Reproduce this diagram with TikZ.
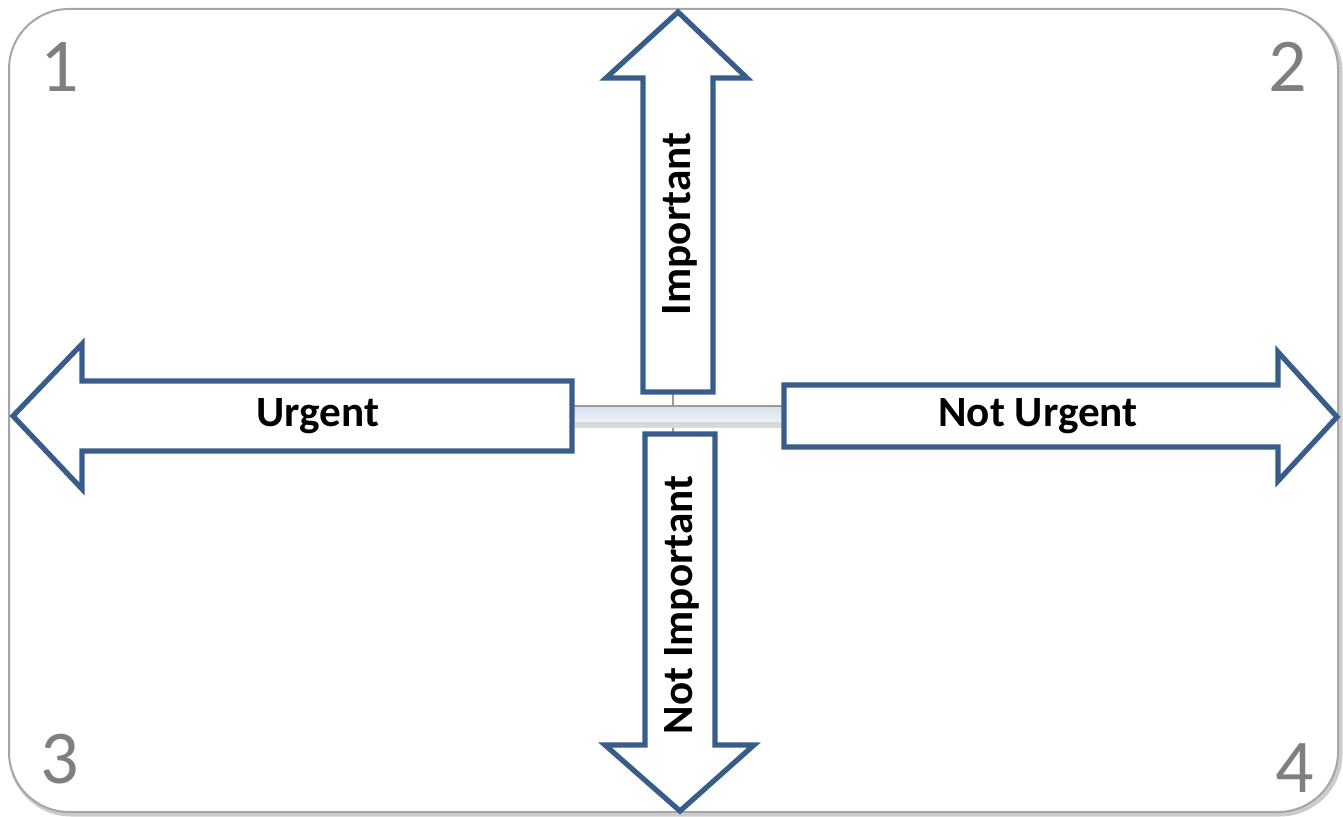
\documentclass[tikz,border=0pt]{standalone}
\usepackage{fontspec}
\setmainfont{Carlito}
\usetikzlibrary{arrows.meta}
\definecolor{edge}{HTML}{385D8A}
\definecolor{frame}{HTML}{A6A6A6}
\definecolor{digit}{HTML}{7F7F7F}
\definecolor{barlo}{HTML}{EEF1F7}
\definecolor{barhi}{HTML}{D9DFEC}

\begin{document}
\begin{tikzpicture}[x=.5pt,y=-.5pt,font=\bfseries\fontsize{21.6}{26}\selectfont,
  bigarrow/.style={draw=edge,line width=2.6pt,fill=white,line join=miter},
  corner/.style={text=digit,font=\fontsize{38}{40}\selectfont,anchor=base}]
  \useasboundingbox (0,0) rectangle (1343,817);
  % card with a soft shadow
  \draw[black!20,line width=2.5pt,rounded corners=30pt] (11,12) rectangle (1340,814);
  \draw[frame,line width=1pt,fill=white,rounded corners=30pt] (9,9) rectangle (1338,812);
  % quadrant numbers
  \node[corner] (q1) at (60,92) {1};
  \node[corner] (q2) at (1288,92) {2};
  \node[corner] (q3) at (60,783) {3};
  \node[corner] (q4) at (1295,792) {4};
  % centre bar
  \draw[black!40,line width=1pt] (673,392)--(673,434);
  \fill[black!15] (575,421) rectangle (783,428);
  \shade[top color=barhi,bottom color=barlo] (573,406) rectangle (783,422);
  \draw[black!40,line width=.8pt] (573,406)--(783,406);
  % the four arrows
  \draw[bigarrow] (678,12)--(747,78)--(713,78)--(713,392)--(643,392)
    --(643,78)--(606,78)--cycle;
  \draw[bigarrow] (645,434)--(715,434)--(715,745)--(754,745)--(680,811)
    --(605,745)--(645,745)--cycle;
  \draw[bigarrow] (13,416)--(82,344)--(82,381)--(572,381)--(572,451)
    --(82,451)--(82,489)--cycle;
  \draw[bigarrow] (784,385)--(1278,385)--(1278,352)--(1337,417)
    --(1278,481)--(1278,447)--(784,447)--cycle;
  % labels
  \node[anchor=base] (urg) at (318,427) {Urgent};
  \node[anchor=base] (nurg) at (1038,427) {Not Urgent};
  \node[rotate=90,anchor=base] (imp) at (690,224) {Important};
  \node[rotate=90,anchor=base] (nimp) at (692,605) {Not Important};
\end{tikzpicture}
\end{document}
